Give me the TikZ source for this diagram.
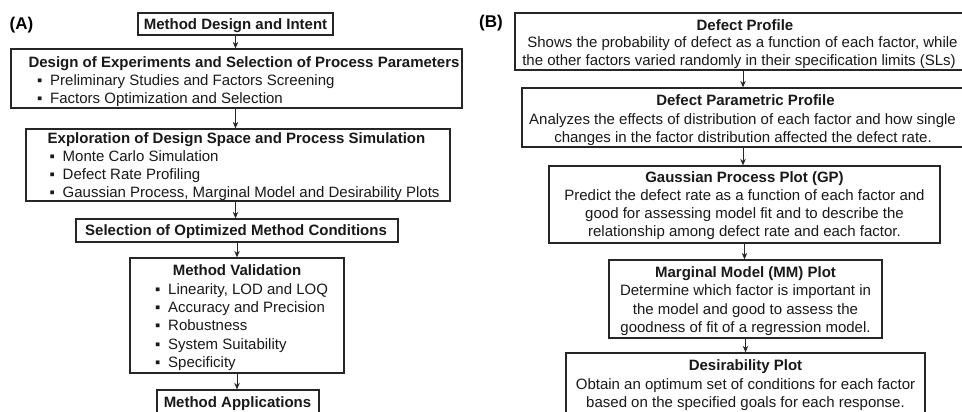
\documentclass[tikz,border=0pt]{standalone}
\usepackage{fontspec}
\setmainfont{Liberation Sans}
\usepackage{tikz}
\usetikzlibrary{arrows.meta}

\newcommand{\bul}{\makebox[13pt][l]{▪}}

\begin{document}
\begin{tikzpicture}[x=1pt, y=-1pt,
        box/.style = {draw=black!85, line width=1.3pt, inner sep=0pt},
        ttl/.style = {font = {\fontsize{15}{18}\selectfont\bfseries}, black!90, anchor=base, inner sep=0pt},
        txt/.style = {font = {\fontsize{15}{18}\selectfont}, black!90, anchor=base, inner sep=0pt},
        itm/.style = {txt, anchor=base west},
        lab/.style = {font = {\fontsize{17}{20}\selectfont\bfseries}, black, anchor=base, inner sep=0pt},
        arr/.style = {draw=black!85, line width=1pt, -{Stealth[length=6.5pt, width=5.5pt]}}]
        \useasboundingbox (0,0) rectangle (962,412);
        \clip (0,0) rectangle (962,412);
        \fill[white] (0,0) rectangle (962,412);

        % panel A
        \node[lab] (labA) at (21.5, 30) {(A)};

        \node[box, minimum width=195pt, minimum height=22pt] (intent) at (235.5, 24) {};
        \node[ttl] (intentT) at (235.5, 29.5) {Method Design and Intent};

        \node[box, minimum width=451pt, minimum height=59pt] (doe) at (236.5, 78.5) {};
        \node[ttl] (doeT) at (244, 67) {Design of Experiments and Selection of Process Parameters};
        \node[itm] (doe1) at (37, 85) {\bul Preliminary Studies and Factors Screening};
        \node[itm] (doe2) at (37, 103) {\bul Factors Optimization and Selection};

        \node[box, minimum width=424pt, minimum height=72pt] (explore) at (238, 165) {};
        \node[ttl] (exploreT) at (236.5, 143) {Exploration of Design Space and Process Simulation};
        \node[itm] (explore1) at (49.5, 161) {\bul Monte Carlo Simulation};
        \node[itm] (explore2) at (49.5, 179) {\bul Defect Rate Profiling};
        \node[itm] (explore3) at (49.5, 197) {\bul Gaussian Process, Marginal Model and Desirability Plots};

        \node[box, minimum width=322pt, minimum height=23pt] (select) at (237, 230.5) {};
        \node[ttl] (selectT) at (236, 235.5) {Selection of Optimized Method Conditions};

        \node[box, minimum width=214pt, minimum height=115pt] (valid) at (237, 315.5) {};
        \node[ttl] (validT) at (237, 275.5) {Method Validation};
        \node[itm] (valid1) at (155, 294) {\bul Linearity, LOD and LOQ};
        \node[itm] (valid2) at (155, 312.3) {\bul Accuracy and Precision};
        \node[itm] (valid3) at (155, 330.6) {\bul Robustness};
        \node[itm] (valid4) at (155, 349) {\bul System Suitability};
        \node[itm] (valid5) at (155, 367) {\bul Specificity};

        \node[box, minimum width=162pt, minimum height=32pt] (apps) at (238, 406) {};
        \node[ttl] (appsT) at (237.5, 407) {Method Applications};

        \draw[arr] (intent.south) -- (intent.south |- doe.north);
        \draw[arr] (intent.south |- doe.south) -- (intent.south |- explore.north);
        \draw[arr] (intent.south |- explore.south) -- (intent.south |- select.north);
        \draw[arr] (select.south) -- (select.south |- valid.north);
        \draw[arr] (valid.south) -- (valid.south |- apps.north);

        % panel B
        \node[lab] (labB) at (491, 28) {(B)};

        \node[box, minimum width=456pt, minimum height=57pt] (defprof) at (743, 41.5) {};
        \node[ttl] (defprofT) at (745, 30.5) {Defect Profile};
        \node[txt] (defprof1) at (742.5, 48) {Shows the probability of defect as a function of each factor, while};
        \node[txt] (defprof2) at (739, 65.5) {the other factors varied randomly in their specification limits (SLs)};

        \node[box, minimum width=446pt, minimum height=59pt] (parprof) at (745, 117.5) {};
        \node[ttl] (parprofT) at (745.5, 106) {Defect Parametric Profile};
        \node[txt] (parprof1) at (742.5, 124.3) {Analyzes the effects of distribution of each factor and how single};
        \node[txt] (parprof2) at (743, 142.5) {changes in the factor distribution affected the defect rate.};

        \node[box, minimum width=391pt, minimum height=77pt] (gpplot) at (744.5, 204.5) {};
        \node[ttl] (gpplotT) at (744.5, 182.5) {Gaussian Process Plot (GP)};
        \node[txt] (gpplot1) at (744.5, 200.5) {Predict the defect rate as a function of each factor and};
        \node[txt] (gpplot2) at (744.5, 218.5) {good for assessing model fit and to describe the};
        \node[txt] (gpplot3) at (744.5, 236.5) {relationship among defect rate and each factor.};

        \node[box, minimum width=273pt, minimum height=78pt] (mmplot) at (745.5, 299) {};
        \node[ttl] (mmplotT) at (745.5, 277) {Marginal Model (MM) Plot};
        \node[txt] (mmplot1) at (745.5, 295.5) {Determine which factor is important in};
        \node[txt] (mmplot2) at (745.5, 314) {the model and good to assess the};
        \node[txt] (mmplot3) at (745.5, 332.5) {goodness of fit of a regression model.};

        \node[box, minimum width=359pt, minimum height=69pt] (desplot) at (745.5, 387.5) {};
        \node[ttl] (desplotT) at (745.5, 370.7) {Desirability Plot};
        \node[txt] (desplot1) at (745.5, 389.3) {Obtain an optimum set of conditions for each factor};
        \node[txt] (desplot2) at (745.5, 407.3) {based on the specified goals for each response.};

        \draw[arr] (defprof.south) -- (defprof.south |- parprof.north);
        \draw[arr] (defprof.south |- parprof.south) -- (defprof.south |- gpplot.north);
        \draw[arr] (gpplot.south) -- (gpplot.south |- mmplot.north);
        \draw[arr] (mmplot.south) -- (mmplot.south |- desplot.north);
    \end{tikzpicture}
\end{document}
